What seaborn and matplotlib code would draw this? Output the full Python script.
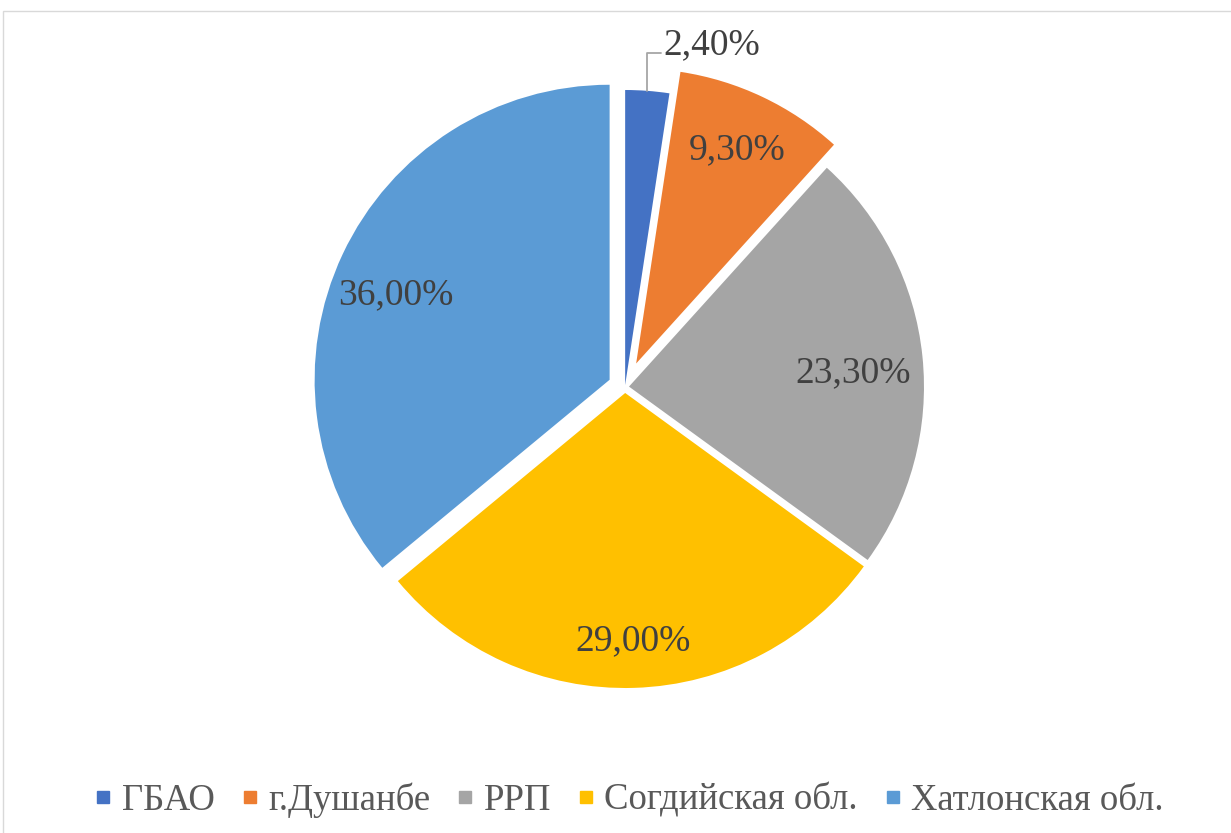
import matplotlib
matplotlib.use('Agg')
import seaborn as sns
from matplotlib import pyplot as plt
from matplotlib.lines import Line2D
from matplotlib.patches import Rectangle
import numpy as np

regions = ['ГБАО', 'г.Душанбе', 'РРП', 'Согдийская обл.', 'Хатлонская обл.']
shares = [2.40, 9.30, 23.30, 29.00, 36.00]
share_labels = ['2,40%', '9,30%', '23,30%', '29,00%', '36,00%']
colors = ['#4472C4', '#ED7D31', '#A5A5A5', '#FFC000', '#5B9BD5']

sns.set_theme(style='white')
plt.rcParams['font.family'] = ['Liberation Serif', 'DejaVu Serif']

W, H = 1231, 833
fig = plt.figure(figsize=(W / 100, H / 100), dpi=100)
ax = fig.add_axes([0, 0, 1, 1])

# pie geometry in pixels (y counted from the bottom); explode is in data units
R = 295
cx, cy = 625, H - 387
explode_px = [2, 26, 4, 6, 17]
wedges, _ = ax.pie(shares, colors=colors, startangle=90, counterclock=False,
                   radius=R, center=(cx, cy), explode=explode_px,
                   wedgeprops=dict(linewidth=0), frame=True)
ax.set_xlim(0, W)
ax.set_ylim(0, H)
ax.axis('off')

# label placement: distance from slice tip (fraction of R) and angle shift (deg)
label_dist = [None, 0.80, 0.76, 0.84, 0.78]
label_shift = [0, 0, -2.5, 0, 3.5]
txt_color = '#404040'
fs = 27
for i, w in enumerate(wedges):
    ang = np.deg2rad((w.theta1 + w.theta2) / 2 + label_shift[i])
    vx, vy = w.center
    if label_dist[i] is None:
        # small slice: label outside with a leader line
        x0 = vx + R * np.cos(ang)
        y0 = vy + R * np.sin(ang)
        ax.plot([x0, x0, x0 + 14], [y0, y0 + 38, y0 + 38], color='#A6A6A6', lw=1.3)
        ax.text(x0 + 16, y0 + 46, share_labels[i], ha='left', va='center',
                fontsize=fs, color=txt_color)
    else:
        d = label_dist[i] * R
        ax.text(vx + d * np.cos(ang), vy + d * np.sin(ang), share_labels[i],
                ha='center', va='center', fontsize=fs, color=txt_color)

handles = [Line2D([], [], marker='s', ls='none', color=c, markersize=9) for c in colors]
ax.legend(handles, regions, loc='center', bbox_to_anchor=(630 / W, 1 - 800 / H),
          ncol=5, frameon=False, fontsize=26.5, handlelength=0.4, handletextpad=0.3,
          columnspacing=0.75, labelcolor='#595959')

fig.patches.append(Rectangle((3 / W, -0.1), 1.2, 0.1 + (H - 11) / H, transform=fig.transFigure,
                             fill=False, edgecolor='#D9D9D9', lw=1))

plt.savefig('out.png', dpi=100)
